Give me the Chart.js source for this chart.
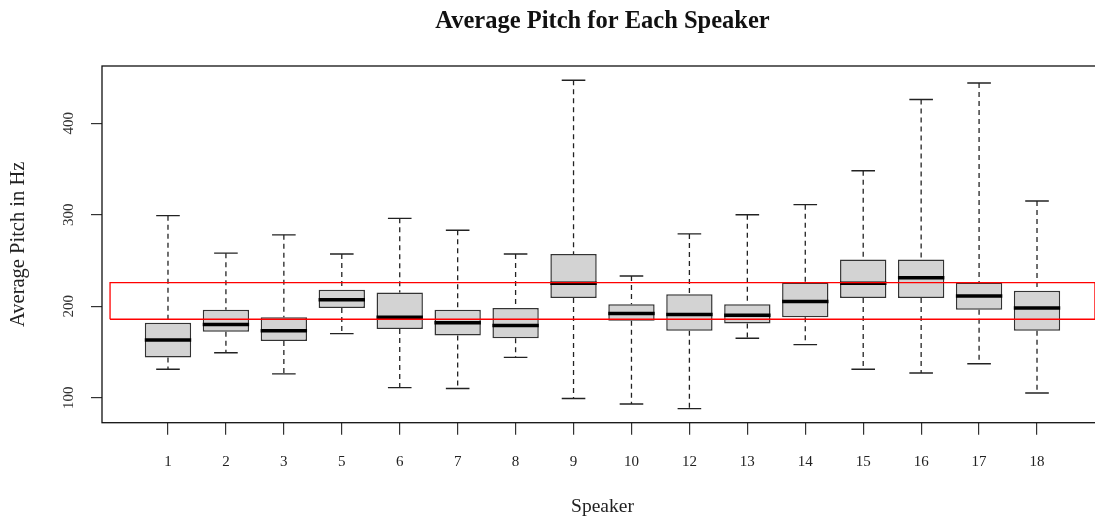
<!DOCTYPE html>
<html>
<head>
<meta charset="utf-8">
<title>Average Pitch for Each Speaker</title>
<script src="https://cdn.jsdelivr.net/npm/chart.js@4.4.0/dist/chart.umd.min.js"></script>
<style>
  html, body { margin: 0; padding: 0; background: #fff; overflow: hidden; }
  #wrap { position: relative; width: 1104px; height: 522px; }
</style>
</head>
<body>
<div id="wrap"><canvas id="pitchChart"></canvas></div>
<script>
// values (Hz)
var speakers = ['1', '2', '3', '5', '6', '7', '8', '9', '10', '12', '13', '14', '15', '16', '17', '18'];
var lowerWhisker = [131, 149, 126, 170, 111, 110, 144, 99, 93, 88, 165, 158, 131, 127, 137, 105];
var q1 = [144, 172, 162, 198, 175, 168, 165, 209, 184, 173, 181, 188, 209, 209, 196, 173];
var median = [163, 180, 173, 207, 188, 182, 179, 225, 192, 191, 190, 205, 225, 231, 211, 198];
var q3 = [182, 196, 188, 218, 215, 196, 198, 257, 202, 213, 202, 226, 251, 251, 226, 217];
var upperWhisker = [299, 258, 278, 257, 296, 283, 257, 447, 233, 279, 300, 311, 348, 426, 444, 315];
var yTicks = [100, 200, 300, 400];
var band = [185.7, 225.7]; // red reference rectangle
var bandX = [0, 17];

var FONT = '"Liberation Serif", "Times New Roman", serif';

var boxes = speakers.map(function (s, i) { return {x: i + 1, y: [q1[i], q3[i]]}; });
var medians = speakers.map(function (s, i) { return {x: i + 1, y: median[i]}; });
var caps = [];
var whiskers = [];
speakers.forEach(function (s, i) {
    var x = i + 1;
    caps.push({x: x, y: upperWhisker[i]}, {x: x, y: lowerWhisker[i]});
    whiskers.push({x: x, y: upperWhisker[i]}, {x: x, y: q3[i]}, {x: x, y: null});
    whiskers.push({x: x, y: q1[i]}, {x: x, y: lowerWhisker[i]}, {x: x, y: null});
});
var bandPts = [
    {x: bandX[0], y: band[0]}, {x: bandX[1], y: band[0]},
    {x: bandX[1], y: band[1]}, {x: bandX[0], y: band[1]},
    {x: bandX[0], y: band[0]}
];

// box frame + R style rotated y labels
var framePlugin = {
    id: 'frame',
    afterDraw: function (chart) {
        var ctx = chart.ctx, a = chart.chartArea, ys = chart.scales.y;
        ctx.save();
        ctx.strokeStyle = '#111';
        ctx.lineWidth = 1.3;
        ctx.strokeRect(a.left, a.top, a.right - a.left, a.bottom - a.top);
        ctx.fillStyle = '#333';
        ctx.font = '15px ' + FONT;
        ctx.textAlign = 'center';
        ctx.textBaseline = 'middle';
        ys.ticks.forEach(function (t, i) {
            ctx.save();
            ctx.translate(a.left - 33, ys.getPixelForTick(i));
            ctx.rotate(-Math.PI / 2);
            ctx.fillText(String(t.value), 0, 0);
            ctx.restore();
        });
        ctx.restore();
    }
};

var ctx = document.getElementById('pitchChart').getContext('2d');
new Chart(ctx, {
    type: 'bar',
    data: {
        datasets: [{
            type: 'line',
            label: 'band',
            data: bandPts,
            borderColor: '#ff0000',
            borderWidth: 1.3,
            pointRadius: 0,
            fill: false,
            order: 0
        }, {
            type: 'line',
            label: 'median',
            data: medians,
            showLine: false,
            pointStyle: 'line',
            pointRadius: 23.2,
            pointBorderWidth: 3.5,
            pointBorderColor: '#000',
            order: 1
        }, {
            type: 'line',
            label: 'caps',
            data: caps,
            showLine: false,
            pointStyle: 'line',
            pointRadius: 11.8,
            pointBorderWidth: 1.4,
            pointBorderColor: '#222',
            order: 2
        }, {
            type: 'line',
            label: 'whiskers',
            data: whiskers,
            borderColor: '#222',
            borderWidth: 1.3,
            borderDash: [5, 4],
            pointRadius: 0,
            spanGaps: false,
            fill: false,
            order: 3
        }, {
            type: 'bar',
            label: 'box',
            data: boxes,
            backgroundColor: '#d3d3d3',
            borderColor: '#333',
            borderWidth: 1.5,
            borderSkipped: false,
            categoryPercentage: 0.8,
            barPercentage: 1,
            order: 4
        }]
    },
    options: {
        responsive: true,
        maintainAspectRatio: false,
        animation: false,
        layout: { autoPadding: false, padding: { left: 0, right: 1, top: 0, bottom: 0 } },
        scales: {
            x: {
                type: 'linear',
                min: -0.139,
                max: 17.139,
                offset: false,
                afterBuildTicks: function (scale) {
                    scale.ticks = speakers.map(function (s, i) { return {value: i + 1}; });
                },
                afterFit: function (scale) {
                    scale.height = 99.3;
                    scale.paddingLeft = 0;
                    scale.paddingRight = 0;
                },
                border: { display: false },
                grid: { offset: false, drawOnChartArea: false, drawTicks: true, tickLength: 12, color: '#333', lineWidth: 1.2 },
                ticks: {
                    autoSkip: false,
                    maxRotation: 0,
                    padding: 18,
                    color: '#222',
                    font: { family: FONT, size: 15 },
                    callback: function (value, index) { return speakers[index]; }
                },
                title: {
                    display: true,
                    text: 'Speaker',
                    color: '#222',
                    font: { family: FONT, size: 19.5 },
                    padding: { top: 0, bottom: 3.5 }
                }
            },
            y: {
                min: 72.6,
                max: 462.6,
                afterBuildTicks: function (scale) {
                    scale.ticks = yTicks.map(function (v) { return {value: v}; });
                },
                afterFit: function (scale) { scale.width = 102; },
                border: { display: false },
                grid: { drawOnChartArea: false, drawTicks: true, tickLength: 11, color: '#333', lineWidth: 1.2 },
                ticks: { display: false },
                title: {
                    display: true,
                    text: 'Average Pitch in Hz',
                    color: '#222',
                    font: { family: FONT, size: 20.5 },
                    padding: { top: 6.7, bottom: 0 }
                }
            }
        },
        plugins: {
            legend: { display: false },
            tooltip: { enabled: false },
            title: {
                display: true,
                fullSize: false,
                text: 'Average Pitch for Each Speaker',
                color: '#111',
                font: { family: FONT, size: 24.5, weight: 'bold' },
                padding: { top: 6.5, bottom: 30.1 }
            }
        }
    },
    plugins: [framePlugin]
});
</script>
</body>
</html>
